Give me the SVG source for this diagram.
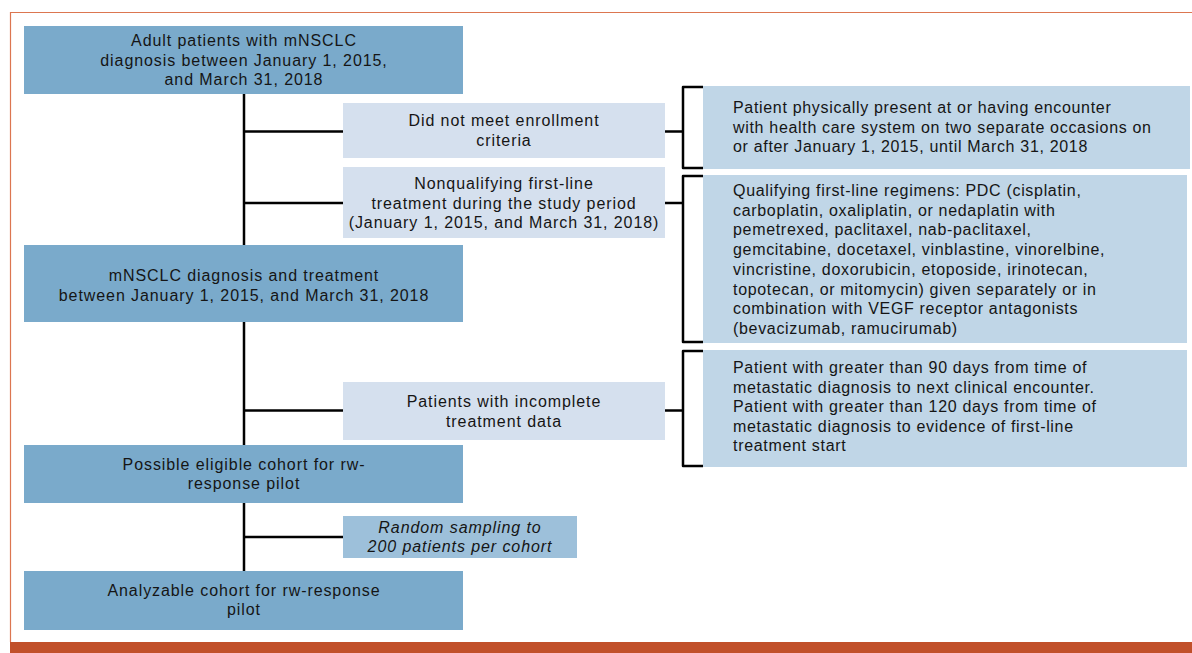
<svg xmlns="http://www.w3.org/2000/svg" width="1192" height="653" viewBox="0 0 1192 653">
<style>
.t{font-family:"Liberation Sans",Arial,sans-serif;font-size:16px;fill:#151515;letter-spacing:0.68px}
.c{text-anchor:middle;letter-spacing:0.92px}
.i{font-style:italic}
.main{fill:#7aaacb}
.side{fill:#d5e0ee}
.right{fill:#c0d6e7}
.samp{fill:#9dc0da}
.ln{stroke:#000;stroke-width:2.5;fill:none}
.br{stroke:#000;stroke-width:2.5;fill:none;stroke-linejoin:round}
</style>
<rect width="1192" height="653" fill="#fff"/>
<g id="frame">
<path d="M10.5,642 V12.5 H1192" fill="none" stroke="#dc7650" stroke-width="1.2"/>
<rect x="10" y="642" width="1182" height="11" fill="#c1502a"/>
</g>
<g id="connectors">
<line class="ln" x1="244" y1="94" x2="244" y2="571"/>
<line class="ln" x1="244" y1="131.5" x2="343" y2="131.5"/>
<line class="ln" x1="244" y1="203" x2="343" y2="203"/>
<line class="ln" x1="244" y1="410.5" x2="343" y2="410.5"/>
<line class="ln" x1="244" y1="537" x2="343" y2="537"/>
<line class="ln" x1="665" y1="131.5" x2="683" y2="131.5"/>
<path class="br" d="M703,87 H683 V168 H703"/>
<line class="ln" x1="665" y1="203" x2="683" y2="203"/>
<path class="br" d="M703,176 H683 V342 H703"/>
<line class="ln" x1="665" y1="410.5" x2="683" y2="410.5"/>
<path class="br" d="M703,351 H683 V466 H703"/>
</g>
<g id="n1">
<rect class="main" x="24" y="26" width="439" height="68"/>
<text class="t c" x="244" y="46">Adult patients with mNSCLC</text>
<text class="t c" x="244" y="65.5">diagnosis between January 1, 2015,</text>
<text class="t c" x="244" y="85">and March 31, 2018</text>
</g>
<g id="s1">
<rect class="side" x="343" y="103" width="322" height="55"/>
<text class="t c" x="504" y="126">Did not meet enrollment</text>
<text class="t c" x="504" y="145.5">criteria</text>
</g>
<g id="s2">
<rect class="side" x="343" y="167" width="322" height="71"/>
<text class="t c" x="504" y="189">Nonqualifying first-line</text>
<text class="t c" x="504" y="208.5">treatment during the study period</text>
<text class="t c" x="504" y="228">(January 1, 2015, and March 31, 2018)</text>
</g>
<g id="n2">
<rect class="main" x="24" y="245" width="439" height="77"/>
<text class="t c" x="244" y="281">mNSCLC diagnosis and treatment</text>
<text class="t c" x="244" y="300.5">between January 1, 2015, and March 31, 2018</text>
</g>
<g id="s3">
<rect class="side" x="343" y="382" width="322" height="58"/>
<text class="t c" x="504" y="407">Patients with incomplete</text>
<text class="t c" x="504" y="426.5">treatment data</text>
</g>
<g id="n3">
<rect class="main" x="24" y="445" width="439" height="58"/>
<text class="t c" x="244" y="469.5">Possible eligible cohort for rw-</text>
<text class="t c" x="244" y="489">response pilot</text>
</g>
<g id="s4">
<rect class="samp" x="343" y="516" width="234" height="42"/>
<text class="t c i" x="460" y="533">Random sampling to</text>
<text class="t c i" x="460" y="552">200 patients per cohort</text>
</g>
<g id="n4">
<rect class="main" x="24" y="571" width="439" height="59"/>
<text class="t c" x="244" y="596">Analyzable cohort for rw-response</text>
<text class="t c" x="244" y="615">pilot</text>
</g>
<g id="r1">
<rect class="right" x="703" y="86" width="487" height="83"/>
<text class="t" x="733" y="113">Patient physically present at or having encounter</text>
<text class="t" x="733" y="132.5">with health care system on two separate occasions on</text>
<text class="t" x="733" y="152">or after January 1, 2015, until March 31, 2018</text>
</g>
<g id="r2">
<rect class="right" x="703" y="175" width="484" height="168"/>
<text class="t" x="733" y="196">Qualifying first-line regimens: PDC (cisplatin,</text>
<text class="t" x="733" y="215.7">carboplatin, oxaliplatin, or nedaplatin with</text>
<text class="t" x="733" y="235.4">pemetrexed, paclitaxel, nab-paclitaxel,</text>
<text class="t" x="733" y="255.1">gemcitabine, docetaxel, vinblastine, vinorelbine,</text>
<text class="t" x="733" y="274.8">vincristine, doxorubicin, etoposide, irinotecan,</text>
<text class="t" x="733" y="294.5">topotecan, or mitomycin) given separately or in</text>
<text class="t" x="733" y="314.2">combination with VEGF receptor antagonists</text>
<text class="t" x="733" y="333.9">(bevacizumab, ramucirumab)</text>
</g>
<g id="r3">
<rect class="right" x="703" y="350" width="484" height="117"/>
<text class="t" x="733" y="373">Patient with greater than 90 days from time of</text>
<text class="t" x="733" y="392.5">metastatic diagnosis to next clinical encounter.</text>
<text class="t" x="733" y="412">Patient with greater than 120 days from time of</text>
<text class="t" x="733" y="431.5">metastatic diagnosis to evidence of first-line</text>
<text class="t" x="733" y="451">treatment start</text>
</g>
</svg>
